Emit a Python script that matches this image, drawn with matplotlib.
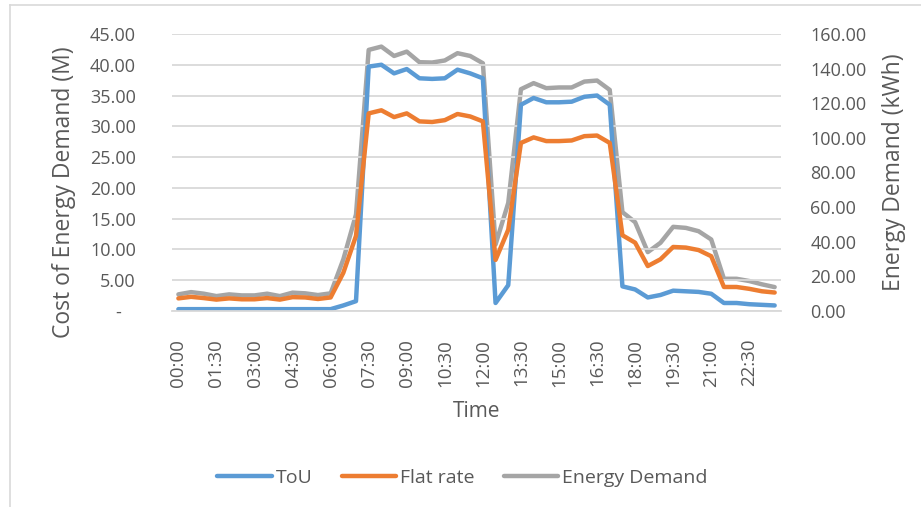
import matplotlib
matplotlib.use("Agg")
import matplotlib.pyplot as plt
from matplotlib.ticker import FuncFormatter, MultipleLocator
from matplotlib.lines import Line2D

plt.rcParams['font.family'] = ['Open Sans', 'DejaVu Sans']

# half-hour time slots
times = ['%02d:%02d' % (h, m) for h in range(24) for m in (0, 30)]

tou = [0.3, 0.3, 0.3, 0.3, 0.3, 0.3, 0.3, 0.3, 0.3, 0.3, 0.3, 0.3,
       0.3, 0.9, 1.6, 39.7, 40.0, 38.6, 39.3, 37.8, 37.7, 37.8, 39.2, 38.6,
       37.8, 1.3, 4.2, 33.5, 34.6, 33.9, 33.9, 34.0, 34.8, 35.0, 33.5, 4.0,
       3.5, 2.2, 2.6, 3.3, 3.2, 3.1, 2.8, 1.3, 1.3, 1.1, 1.0, 0.9]

flat = [2.05, 2.3, 2.1, 1.85, 2.05, 1.9, 1.9, 2.1, 1.85, 2.25, 2.2, 1.95,
        2.2, 6.2, 12.2, 32.1, 32.6, 31.5, 32.1, 30.8, 30.7, 31.0, 32.0, 31.6,
        30.8, 8.3, 13.2, 27.3, 28.2, 27.6, 27.6, 27.7, 28.4, 28.5, 27.3, 12.3,
        11.1, 7.3, 8.4, 10.4, 10.3, 9.9, 8.9, 3.9, 3.9, 3.6, 3.2, 3.0]

demand = [9.6, 10.9, 10.0, 8.6, 9.6, 9.0, 9.0, 10.0, 8.6, 10.6, 10.2, 9.2,
          10.2, 29.8, 55.7, 150.8, 152.7, 147.3, 149.8, 143.7, 143.5, 144.7, 148.9, 147.3,
          143.1, 38.4, 62.4, 128.1, 131.6, 128.7, 129.1, 129.1, 132.5, 133.1, 127.7, 57.1,
          51.3, 34.0, 39.4, 48.6, 48.0, 46.1, 41.3, 18.6, 18.6, 17.3, 15.4, 13.8]

c_tou = '#5B9BD5'
c_flat = '#ED7D31'
c_dem = '#A5A5A5'
txt = '#595959'

fig = plt.figure(figsize=(9.21, 5.07), dpi=100)
ax = fig.add_axes([0.1868, 0.3866, 0.6612, 0.5464])
ax2 = ax.twinx()

x = list(range(len(times)))
l1, = ax.plot(x, tou, color=c_tou, lw=3.2, solid_capstyle='round', label='ToU')
l2, = ax.plot(x, flat, color=c_flat, lw=3.2, solid_capstyle='round', label='Flat rate')
l3, = ax2.plot(x, demand, color=c_dem, lw=3.2, solid_capstyle='round', label='Energy Demand')
ax.set_zorder(ax2.get_zorder() + 1)
ax.patch.set_visible(False)

ax.set_xlim(-0.5, len(times) - 0.5)
ax.set_ylim(0, 45)
ax2.set_ylim(0, 160)
ax.yaxis.set_major_locator(MultipleLocator(5))
ax2.yaxis.set_major_locator(MultipleLocator(20))
ax.yaxis.set_major_formatter(FuncFormatter(lambda v, p: '-   ' if v == 0 else '%.2f' % v))
ax2.yaxis.set_major_formatter(FuncFormatter(lambda v, p: '%.2f' % v))

ax.set_xticks(x[::3])
ax.set_xticklabels(times[::3], rotation=90)

ax.grid(axis='y', color='#D9D9D9', lw=1.3)
ax.set_axisbelow(True)
for a in (ax, ax2):
    for s in a.spines.values():
        s.set_visible(False)
ax.spines['bottom'].set_visible(True)
ax.spines['bottom'].set_color('#D9D9D9')
ax.spines['bottom'].set_linewidth(1.3)

ax.tick_params(axis='both', length=0, labelsize=13, colors=txt)
ax.tick_params(axis='y', pad=26)
ax.tick_params(axis='x', pad=20, labelsize=13.5)
ax2.tick_params(axis='y', length=0, labelsize=13, colors=txt, pad=21)

ax.set_xlabel('Time', fontsize=15, color=txt, labelpad=10)
ax.set_ylabel('Cost of Energy Demand (M)', fontsize=16.5, color=txt)
ax2.set_ylabel('Energy Demand (kWh)', fontsize=16.5, color=txt)
ax.yaxis.set_label_coords(-0.158, 0.43)
ax2.yaxis.set_label_coords(1.166, 0.5)

fig.legend(handles=[l1, l2, l3], loc='center', bbox_to_anchor=(0.502, 0.057),
           ncol=3, frameon=False, fontsize=14, labelcolor=txt,
           handlelength=2.8, handletextpad=0.2, columnspacing=1.5)

# chart border (only top and left visible)
fig.add_artist(Line2D([10 / 921, 1], [1 - 5 / 507, 1 - 5 / 507], color='#D9D9D9', lw=1.2))
fig.add_artist(Line2D([10 / 921, 10 / 921], [0, 1 - 5 / 507], color='#D9D9D9', lw=1.2))

fig.savefig('out.png', dpi=100)
